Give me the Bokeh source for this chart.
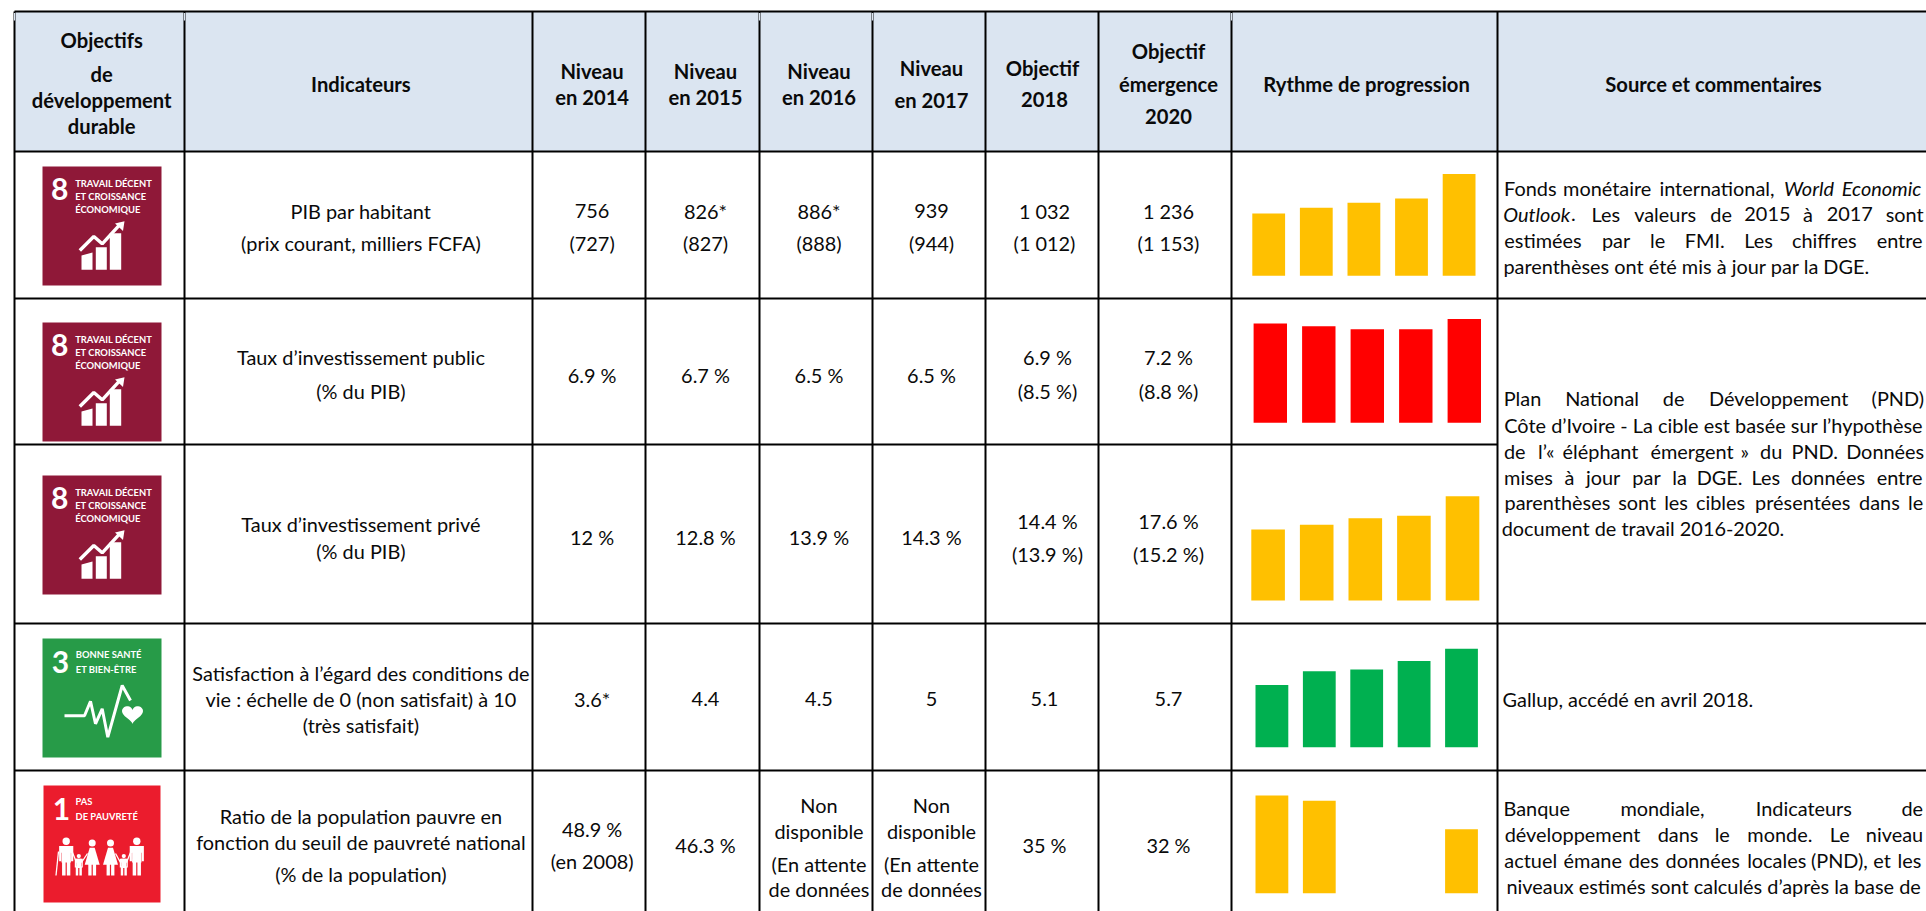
import numpy as np
from bokeh.core.properties import value
from bokeh.embed import file_html
from bokeh.models import Range1d
from bokeh.plotting import figure
from bokeh.resources import INLINE

W, H = 1926, 911
FONT = "Lato"
SIZE = "19.9px"
BOLD_SIZE = "20.2px"
INK = "#0a0a0a"

# ---------- data ----------
periods = ["2014", "2015", "2016", "2017", "2020"]
pib_habitant = [756, 826, 886, 939, 1236]
invest_public = [6.9, 6.7, 6.5, 6.5, 7.2]
invest_prive = [12, 12.8, 13.9, 14.3, 17.6]
satisfaction = [3.6, 4.4, 4.5, 5, 5.7]
pauvrete = [48.9, 46.3, float("nan"), float("nan"), 32]
bar_colors = ["#FFC000", "#FF0000", "#FFC000", "#00B050", "#FFC000"]

# ---------- layout (page pixels) ----------
v_lines = [14, 184, 532, 645, 759, 872, 985, 1098, 1231, 1497]
h_lines = [11, 151, 298, 444, 623, 770]
col = dict(ind=360.4, y14=591.6, y15=705, y16=818.5, y17=931, o18=1044, o18b=1047, o20=1168)
# x of first bar, step, bar width, baseline, pixels per unit
bar_layout = [
    (1268.2, 47.6, 32.8, 275.3, 62.3 / 756),
    (1269.8, 48.5, 33.4, 422.3, 103.7 / 7.2),
    (1267.6, 48.6, 33.6, 600.0, 104.3 / 17.6),
    (1271.4, 47.4, 32.8, 746.7, 98.4 / 5.7),
    (1271.4, 47.4, 32.8, 892.7, 97.7 / 48.9),
]
series = [pib_habitant, invest_public, invest_prive, satisfaction, pauvrete]

p = figure(width=W, height=H, x_range=Range1d(0, W), y_range=Range1d(H, 0),
           x_axis_type=None, y_axis_type=None, toolbar_location=None, output_backend="svg",
           min_border=0, outline_line_color=None, background_fill_color="white",
           border_fill_color="white",
           styles={"position": "absolute", "left": "0px", "top": "0px"})
p.grid.visible = False


def T(x, y, s, bold=False, italic=False, size=None, font=FONT, color=INK, align="center"):
    style = "bold italic" if bold and italic else "bold" if bold else "italic" if italic else "normal"
    size = size or (BOLD_SIZE if bold else SIZE)
    p.text([x], [y], text=[s], text_font=value(font), text_font_size=value(size),
           text_font_style=style, text_color=color, text_align=align, text_baseline="middle")


# header band
p.quad(left=[14], right=[W], top=[11], bottom=[151], fill_color="#DBE5F1", line_color=None)

# bars, each row on its own scales
for r, (vals, col_hex, (x0, dx, bw, base, k)) in enumerate(zip(series, bar_colors, bar_layout)):
    xn, yn = f"x{r}", f"y{r}"
    p.extra_x_ranges[xn] = Range1d(-x0 / dx, (W - x0) / dx)
    p.extra_y_ranges[yn] = Range1d((base - H) / k, base / k)
    idx = [i for i, v in enumerate(vals) if not np.isnan(v)]
    p.vbar(x=idx, top=[vals[i] for i in idx], bottom=0, width=bw / dx, fill_color=col_hex,
           line_color=None, x_range_name=xn, y_range_name=yn)

# grid lines
p.segment(x0=v_lines, y0=[11] * len(v_lines), x1=v_lines, y1=[H] * len(v_lines), line_color="black", line_width=2)
sx0 = [14] * len(h_lines)
sx1 = [W, W, W, 1497, W, W]
p.segment(x0=sx0, y0=h_lines, x1=sx1, y1=h_lines, line_color="black", line_width=2)
notch = [14, 184, 759, 872, 1231]
p.segment(x0=notch, y0=[12.5] * 5, x1=notch, y1=[20] * 5, line_color="#DBE5F1", line_width=1.2)

# headers
for s, y in zip(["Objectifs", "de", "développement", "durable"], [39.5, 73, 99, 125.5]):
    T(101.2, y, s, bold=True)
T(col["ind"], 83, "Indicateurs", bold=True)
for x, yr in zip([col["y14"], col["y15"], col["y16"]], periods[:3]):
    T(x, 70, "Niveau", bold=True)
    T(x, 96.5, f"en {yr}", bold=True)
T(col["y17"], 67, "Niveau", bold=True)
T(col["y17"], 99, "en 2017", bold=True)
T(1042, 67, "Objectif", bold=True)
T(1044, 99, "2018", bold=True)
T(col["o20"], 50, "Objectif", bold=True)
T(col["o20"], 83, "émergence", bold=True)
T(col["o20"], 116, "2020", bold=True)
T(1366, 83, "Rythme de progression", bold=True)
T(1713, 83, "Source et commentaires", bold=True)

# indicators
for s, y in [("PIB par habitant", 210.7), ("(prix courant, milliers FCFA)", 242.3),
             ("Taux d’investissement public", 356.7), ("(% du PIB)", 390.7),
             ("Taux d’investissement privé", 523.3), ("(% du PIB)", 550),
             ("Satisfaction à l’égard des conditions de", 672.3), ("vie : échelle de 0 (non satisfait) à 10", 698.3),
             ("(très satisfait)", 724.7),
             ("Ratio de la population pauvre en", 815.7), ("fonction du seuil de pauvreté national", 841.7),
             ("(% de la population)", 873.3)]:
    T(col["ind"], y, s)

# cells
cells = [
    ("y14", 210.7, "756"), ("y14", 242.3, "(727)"), ("y15", 210.7, "826*"), ("y15", 242.3, "(827)"),
    ("y16", 210.7, "886*"), ("y16", 242.3, "(888)"), ("y17", 210.7, "939"), ("y17", 242.3, "(944)"),
    ("o18", 210.7, "1 032"), ("o18", 242.3, "(1 012)"), ("o20", 210.7, "1 236"), ("o20", 242.3, "(1 153)"),
    ("y14", 374, "6.9 %"), ("y15", 374, "6.7 %"), ("y16", 374, "6.5 %"), ("y17", 374, "6.5 %"),
    ("o18b", 356.7, "6.9 %"), ("o18b", 390.7, "(8.5 %)"), ("o20", 356.7, "7.2 %"), ("o20", 390.7, "(8.8 %)"),
    ("y14", 536, "12 %"), ("y15", 536, "12.8 %"), ("y16", 536, "13.9 %"), ("y17", 536, "14.3 %"),
    ("o18b", 520, "14.4 %"), ("o18b", 553.3, "(13.9 %)"), ("o20", 520, "17.6 %"), ("o20", 553.3, "(15.2 %)"),
    ("y14", 698.3, "3.6*"), ("y15", 698.3, "4.4"), ("y16", 698.3, "4.5"), ("y17", 698.3, "5"),
    ("o18", 698.3, "5.1"), ("o20", 698.3, "5.7"),
    ("y14", 828.7, "48.9 %"), ("y14", 860, "(en 2008)"), ("y15", 844.3, "46.3 %"),
    ("y16", 804.3, "Non"), ("y16", 830.3, "disponible"), ("y16", 863.3, "(En attente"), ("y16", 888.7, "de données"),
    ("y17", 804.3, "Non"), ("y17", 830.3, "disponible"), ("y17", 863.3, "(En attente"), ("y17", 888.7, "de données"),
    ("o18", 844.3, "35 %"), ("o20", 844.3, "32 %"),
]
for c, y, s in cells:
    T(col[c], y, s)


# comments: justified lines are placed word by word
def zx(v):
    return 1230 + v / 2.25


comment_lines = [
    (187.3, [("Fonds", 616, 733), ("monétaire", 747, 948), ("international,", 961, 1228),
             ("World", 1243, 1360, 1), ("Economic", 1372, 1558, 1)]),
    (213.3, [("Outlook", 616, 762, 1), (".", 765, 778), ("Les", 814, 875), ("valeurs", 908, 1048), ("de", 1080, 1128),
             ("2015", 1160, 1256), ("à", 1288, 1311), ("2017", 1345, 1442), ("sont", 1476, 1558)]),
    (239.3, [("estimées", 616, 790), ("par", 836, 899), ("le", 945, 977), ("FMI.", 1024, 1110),
             ("Les", 1157, 1219), ("chiffres", 1264, 1408), ("entre", 1453, 1558)]),
    (265.7, [("parenthèses ont été mis à jour par la DGE.", 616, 1437)]),
    (397.7, [("Plan", 616, 698), ("National", 754, 918), ("de", 973, 1021),
             ("Développement", 1077, 1390), ("(PND)", 1445, 1558)]),
    (424, [("Côte d’Ivoire - La cible est basée sur l’hypothèse", 616, 1558)]),
    (450, [("de", 616, 663), ("l’«", 688, 733), ("éléphant", 747, 918), ("émergent", 943, 1134), ("»", 1148, 1166),
           ("du", 1193, 1240), ("PND.", 1267, 1362), ("Données", 1388, 1558)]),
    (476, [("mises", 616, 725), ("à", 752, 773), ("jour", 800, 877), ("par", 905, 967), ("la", 995, 1026),
           ("DGE.", 1055, 1146), ("Les", 1174, 1235), ("données", 1262, 1427), ("entre", 1453, 1558)]),
    (501.7, [("parenthèses", 616, 855), ("sont", 875, 955), ("les", 975, 1030), ("cibles", 1050, 1155),
             ("présentées", 1180, 1395), ("dans", 1415, 1505), ("le", 1525, 1558)]),
    (527.7, [("document de travail 2016-2020.", 616, 1240)]),
    (698.7, [("Gallup, accédé en avril 2018.", 616, 1172)]),
    (807.7, [("Banque", 616, 762), ("mondiale,", 876, 1068), ("Indicateurs", 1182, 1398), ("de", 1510, 1558)]),
    (833.7, [("développement", 616, 923), ("dans", 962, 1052), ("le", 1090, 1123), ("monde.", 1162, 1310),
             ("Le", 1350, 1392), ("niveau", 1430, 1558)]),
    (859.7, [("actuel", 616, 735), ("émane", 750, 880), ("des", 898, 962), ("données", 980, 1145),
             ("locales", 1165, 1293), ("(PND),", 1313, 1427), ("et", 1452, 1480), ("les", 1497, 1558)]),
    (885.7, [("niveaux estimés sont calculés d’après la base de", 616, 1558)]),
]
for y, words in comment_lines:
    for w in words:
        T((zx(w[1]) + zx(w[2])) / 2, y, w[0], italic=len(w) > 3)

# SDG tiles
WHITE = "white"
TITLE = "9.4px"
DIGIT = "30px"


def tile(x, y, s, color):
    p.quad(left=[x], right=[x + s], top=[y], bottom=[y + s], fill_color=color, line_color=None)


def poly(x, y, pts, width=0):
    arr = np.array(pts, dtype=float)
    if width:
        p.line(x + arr[:, 0], y + arr[:, 1], line_color=WHITE, line_width=width)
    else:
        p.patch(x + arr[:, 0], y + arr[:, 1], fill_color=WHITE, line_color=None)


def tile8(x, y):
    tile(x, y, 119, "#8F1838")
    T(x + 17.2, y + 22.5, "8", bold=True, size=DIGIT, color=WHITE)
    for s, dy in [("TRAVAIL DÉCENT", 16.6), ("ET CROISSANCE", 29.8), ("ÉCONOMIQUE", 42.6)]:
        T(x + 32.7, y + dy, s, bold=True, size=TITLE, color=WHITE, align="left")
    for a, b, top in [(39, 50, 89), (53.3, 64.3, 80.7), (67.3, 78.7, 66.7)]:
        poly(x, y, [(a, top), (b, top - (3 if a < 50 else 0)), (b, 103.3), (a, 103.3)])
    poly(x, y, [(37.3, 84), (51.3, 70), (59.7, 77.3), (78, 57.3)], width=3.4)
    poly(x, y, [(82, 54.7), (72.5, 57), (80.5, 64.5)])


def tile3(x, y):
    tile(x, y, 119, "#279B48")
    T(x + 18, y + 23, "3", bold=True, size=DIGIT, color=WHITE)
    for s, dy in [("BONNE SANTÉ", 16), ("ET BIEN-ÊTRE", 30.5)]:
        T(x + 33.3, y + dy, s, bold=True, size=TITLE, color=WHITE, align="left")
    poly(x, y, [(22, 77.3), (42, 77.3), (48, 62.7), (53, 85.3), (59.7, 70.3), (65.3, 98.7), (79.7, 47), (88, 62)], width=3)
    t = np.linspace(0, 2 * np.pi, 60)
    hx = 90 + 10.5 * np.sin(t) ** 3
    hy = 75 - 0.62 * (13 * np.cos(t) - 5 * np.cos(2 * t) - 2 * np.cos(3 * t) - np.cos(4 * t))
    poly(x, y, list(zip(hx, hy)))


def person(x, y, cx, head, foot, kind):
    scale = (foot - head) / 34.0
    p.circle([x + cx], [y + head + 2.5 * scale], radius=3.4 * scale, fill_color=WHITE, line_color=None)
    top = head + 7 * scale
    if kind == "dress":
        poly(x, y, [(cx - 2.5, top), (cx + 2.5, top), (cx + 7.5, top + 17), (cx - 7.5, top + 17)])
    else:
        poly(x, y, [(cx - 6.5 * scale, top), (cx + 6.5 * scale, top), (cx + 6.5 * scale, top + 14 * scale),
                    (cx + 4.5 * scale, top + 14 * scale), (cx + 4.5 * scale, top + 6 * scale),
                    (cx - 4.5 * scale, top + 6 * scale), (cx - 4.5 * scale, top + 14 * scale),
                    (cx - 6.5 * scale, top + 14 * scale)])
        poly(x, y, [(cx - 4.3 * scale, top), (cx + 4.3 * scale, top), (cx + 4.3 * scale, top + 15 * scale),
                    (cx - 4.3 * scale, top + 15 * scale)])
    for s in (-1, 1):
        a, b = cx + s * 0.6, cx + s * 3.8 * max(scale, 0.8)
        poly(x, y, [(a, top + 12 * scale), (b, top + 12 * scale), (b, foot), (a, foot)])


def tile1(x, y):
    tile(x, y, 117, "#EB1C2D")
    T(x + 18, y + 23, "1", bold=True, size=DIGIT, color=WHITE)
    for s, dy in [("PAS", 16), ("DE PAUVRETÉ", 31)]:
        T(x + 32, y + dy, s, bold=True, size=TITLE, color=WHITE, align="left")
    for cx, head, kind in [(22.7, 53, "man"), (48.7, 55, "dress"), (67, 55, "dress"), (93.3, 53, "man"),
                           (35.3, 69, "kid"), (80.3, 69, "kid")]:
        person(x, y, cx, head, 90, kind)
    poly(x, y, [(15, 66), (12.5, 90)], width=1.3)
    poly(x, y, [(29, 67), (33, 77)], width=1.3)
    poly(x, y, [(38, 77), (44, 68)], width=1.3)
    poly(x, y, [(72, 68), (77, 77)], width=1.3)
    poly(x, y, [(83, 77), (87, 67)], width=1.3)


tile8(42, 166)
tile8(42, 322)
tile8(42, 475)
tile3(42, 638)
tile1(43, 785)

open("out.html", "w").write(file_html(p, INLINE))
